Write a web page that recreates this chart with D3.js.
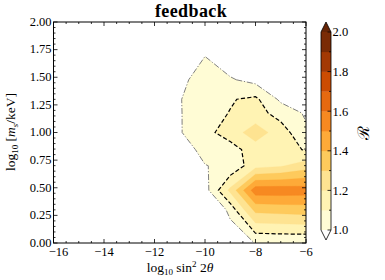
<!DOCTYPE html>
<html>
<head>
<meta charset="utf-8">
<script src="https://cdn.jsdelivr.net/npm/d3@7"></script>
<style>
  body { margin: 0; background: #fff; }
  text { font-family: "Liberation Serif", "DejaVu Serif", serif; fill: #000; }
</style>
</head>
<body>
<svg id="chart" width="385" height="280"></svg>
<script>
// grid columns: log10 sin^2(2theta)
const mixing = [-16, -15, -14, -13, -12, -11, -10, -9, -8, -7, -6];
// grid rows: sterile neutrino mass in keV
const massKeV = [1, 2, 3, 5, 7, 10, 15, 20, 30, 50, 100];
// R on the grid, one row per mass, one value per mixing column
const ratio = [
  [0.55, 0.56, 0.58, 0.60, 0.64, 0.70, 0.78, 0.90, 1.005, 1.01, 1.01],
  [0.55, 0.56, 0.58, 0.61, 0.65, 0.72, 0.80, 1.04, 1.33, 1.34, 1.35],
  [0.56, 0.57, 0.59, 0.62, 0.67, 0.80, 0.96, 1.224, 1.56, 1.56, 1.55],
  [0.57, 0.58, 0.60, 0.64, 0.72, 0.90, 0.997, 1.02, 1.165, 1.19, 1.25],
  [0.58, 0.59, 0.62, 0.67, 0.78, 0.951, 1.03, 1.056, 1.154, 1.15, 1.09],
  [0.60, 0.62, 0.66, 0.72, 0.85, 0.993, 1.067, 1.15, 1.25, 1.15, 1.016],
  [0.60, 0.62, 0.66, 0.73, 0.86, 0.993, 1.07, 1.103, 1.14, 1.06, 0.988],
  [0.60, 0.62, 0.66, 0.73, 0.86, 0.995, 1.06, 1.093, 1.12, 0.98, 0.95],
  [0.59, 0.61, 0.65, 0.72, 0.85, 0.978, 1.04, 1.01, 0.968, 0.90, 0.88],
  [0.57, 0.59, 0.62, 0.68, 0.80, 0.95, 0.998, 0.93, 0.90, 0.85, 0.82],
  [0.52, 0.54, 0.56, 0.60, 0.68, 0.85, 0.90, 0.85, 0.80, 0.80, 0.78]
];
const levels = [1.0, 1.1, 1.2, 1.3, 1.4, 1.5, 1.6, 1.7, 1.8, 1.9, 2.0];
const ylorbr = ["#ffffe5", "#fff7bc", "#fee391", "#fec44f", "#fe9929", "#ec7014", "#cc4c02", "#993404", "#662506"];
const xTicks = [-16, -14, -12, -10, -8, -6];
const yTicks = [0, 0.25, 0.5, 0.75, 1.0, 1.25, 1.5, 1.75, 2.0];
const cbTicks = [1.0, 1.2, 1.4, 1.6, 1.8, 2.0];

const svg = d3.select("#chart");
const pl = 53.5, pr = 306, pt = 22, pb = 243;
const x = d3.scaleLinear().domain([-16, -6]).range([pl, pr]);
const y = d3.scaleLinear().domain([0, 2]).range([pb, pt]);

const cmap = d3.scaleLinear()
  .domain(ylorbr.map((c, i) => i / (ylorbr.length - 1)))
  .range(ylorbr)
  .interpolate(d3.interpolateRgb);
// band colour = colormap at the middle of the band, last level = over colour
const bandColor = (v) => v >= 1.999 ? cmap(1) : cmap(v - 1 + 0.05);

// pad grid by one copied cell on each side so contours run cleanly to the frame
const nx = mixing.length + 2, ny = massKeV.length + 2;
const grid = [];
for (let j = 0; j < ny; j++) {
  const row = ratio[Math.min(Math.max(j - 1, 0), massKeV.length - 1)];
  for (let i = 0; i < nx; i++) grid.push(row[Math.min(Math.max(i - 1, 0), mixing.length - 1)]);
}
const colToX = d3.scaleLinear().domain(d3.range(mixing.length)).range(mixing);
const rowToY = d3.scaleLinear().domain(d3.range(massKeV.length)).range(massKeV.map(Math.log10));
const proj = d3.geoTransform({
  point(px, py) { this.stream.point(x(colToX(px - 1.5)), y(rowToY(py - 1.5))); }
});
const path = d3.geoPath(proj);
const contours = d3.contours().size([nx, ny]).thresholds(levels)(grid);

svg.append("defs").append("clipPath").attr("id", "plot")
  .append("rect").attr("x", pl).attr("y", pt)
  .attr("width", pr - pl).attr("height", pb - pt);

const plot = svg.append("g").attr("clip-path", "url(#plot)");
plot.selectAll("path.band")
  .data(contours)
  .enter().append("path")
  .attr("class", "band")
  .attr("d", path)
  .attr("fill", d => bandColor(d.value))
  .attr("stroke", d => bandColor(d.value))
  .attr("stroke-width", 0.3);

// contour lines at R = 1.0 (dash-dot) and R = 1.1 (dashed)
plot.append("path")
  .attr("d", path(contours[0]))
  .attr("fill", "none").attr("stroke", "#808080").attr("stroke-width", 1)
  .attr("stroke-dasharray", "6,1.8,1.2,1.8");
plot.append("path")
  .attr("d", path(contours[1]))
  .attr("fill", "none").attr("stroke", "#000").attr("stroke-width", 1.2)
  .attr("stroke-dasharray", "4.2,2.2");

// frame and ticks
const axes = svg.append("g").attr("stroke", "#000").attr("stroke-width", 0.8);
d3.range(0, 20.5, 1).forEach(k => {
  const v = -16 + k * 0.5;
  const len = k % 4 === 0 ? 4 : 2;
  axes.append("line").attr("x1", x(v)).attr("x2", x(v)).attr("y1", pb).attr("y2", pb - len);
  axes.append("line").attr("x1", x(v)).attr("x2", x(v)).attr("y1", pt).attr("y2", pt + len);
});
d3.range(0, 40.5, 1).forEach(k => {
  const v = k * 0.05;
  const len = k % 5 === 0 ? 4 : 2;
  axes.append("line").attr("x1", pl).attr("x2", pl + len).attr("y1", y(v)).attr("y2", y(v));
  axes.append("line").attr("x1", pr).attr("x2", pr - len).attr("y1", y(v)).attr("y2", y(v));
});
svg.append("rect").attr("x", pl).attr("y", pt)
  .attr("width", pr - pl).attr("height", pb - pt)
  .attr("fill", "none").attr("stroke", "#000").attr("stroke-width", 1);

svg.selectAll("text.xt").data(xTicks).enter().append("text")
  .attr("class", "xt").attr("x", d => x(d) + (d === -16 ? 5 : 0)).attr("y", pb + 12.5)
  .attr("text-anchor", "middle").attr("font-size", 12.5)
  .text(d => "\u2212" + Math.abs(d));
svg.selectAll("text.yt").data(yTicks).enter().append("text")
  .attr("class", "yt").attr("x", pl - 2).attr("y", d => y(d) + 3.8)
  .attr("text-anchor", "end").attr("font-size", 12.5)
  .text(d => d.toFixed(2));

// title and axis labels
svg.append("text").attr("x", 191).attr("y", 17).attr("text-anchor", "middle")
  .attr("font-size", 18).attr("font-weight", "bold").attr("letter-spacing", 0.4)
  .text("feedback");

const xl = svg.append("text").attr("x", 180).attr("y", 272).attr("text-anchor", "middle").attr("font-size", 13.5);
xl.append("tspan").text("log");
xl.append("tspan").attr("font-size", 9).attr("dy", 3).text("10");
xl.append("tspan").attr("dy", -3).text(" sin");
xl.append("tspan").attr("font-size", 9).attr("dy", -5).text("2");
xl.append("tspan").attr("dy", 5).text(" 2");
xl.append("tspan").attr("font-style", "italic").text("\u03b8");

const yl = svg.append("text").attr("transform", "translate(15,132) rotate(-90)")
  .attr("text-anchor", "middle").attr("font-size", 13.5);
yl.append("tspan").text("log");
yl.append("tspan").attr("font-size", 9).attr("dy", 3).text("10");
yl.append("tspan").attr("dy", -3).text(" [");
yl.append("tspan").attr("font-style", "italic").text("m");
yl.append("tspan").attr("font-style", "italic").attr("font-size", 9).attr("dy", 3).text("s");
yl.append("tspan").attr("dy", -3).text("/keV]");

// colorbar
const cbX = 321, cbW = 10;
const cb = d3.scaleLinear().domain([1, 2]).range([230, 32]);
const cbg = svg.append("g");
cbg.selectAll("rect").data(levels.slice(0, -1)).enter().append("rect")
  .attr("x", cbX).attr("width", cbW)
  .attr("y", d => cb(d + 0.1)).attr("height", d => cb(d) - cb(d + 0.1) + 0.3)
  .attr("fill", d => bandColor(d));
cbg.append("path")
  .attr("d", `M${cbX},${cb(2)}L${cbX + cbW / 2},${cb(2) - 10}L${cbX + cbW},${cb(2)}Z`)
  .attr("fill", cmap(1));
cbg.append("path")
  .attr("d", `M${cbX},${cb(1)}L${cbX + cbW / 2},${cb(1) + 10}L${cbX + cbW},${cb(1)}Z`)
  .attr("fill", "#fff");
cbg.append("path")
  .attr("d", `M${cbX},${cb(2)}L${cbX + cbW / 2},${cb(2) - 10}L${cbX + cbW},${cb(2)}` +
    `L${cbX + cbW},${cb(1)}L${cbX + cbW / 2},${cb(1) + 10}L${cbX},${cb(1)}Z`)
  .attr("fill", "none").attr("stroke", "#000").attr("stroke-width", 0.8);
levels.forEach((v, i) => {
  const len = i % 2 === 0 ? 3.5 : 2;
  cbg.append("line").attr("x1", cbX + cbW).attr("x2", cbX + cbW - len)
    .attr("y1", cb(v)).attr("y2", cb(v)).attr("stroke", "#000").attr("stroke-width", 0.8);
});
cbg.selectAll("text").data(cbTicks).enter().append("text")
  .attr("x", cbX + cbW + 1.5).attr("y", d => cb(d) + 4.3)
  .attr("font-size", 12.5).text(d => d.toFixed(1));
svg.append("text").attr("transform", "translate(369,133) rotate(-90)")
  .attr("text-anchor", "middle").attr("font-family", "DejaVu Serif, DejaVu Sans")
  .attr("font-size", 16).text("\u211b");
</script>
</body>
</html>
